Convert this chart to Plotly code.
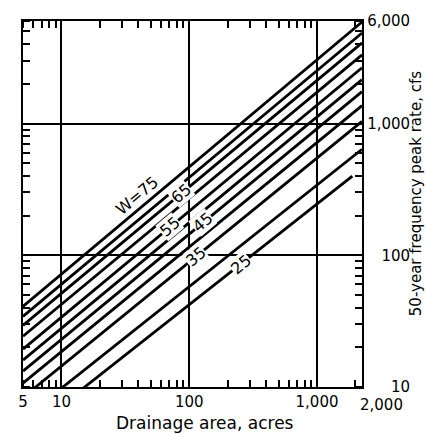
import numpy as np
import plotly.graph_objects as go

# ---- data ----
w_values = [25, 30, 35, 40, 45, 50, 55, 60, 65, 70, 75]
area_left = [5, 5, 5, 5, 5, 5, 5, 5, 5, 5, 5]                          # acres
area_right = [1890, 2250, 2250, 2250, 2250, 2250, 2250, 2250, 2250, 2250, 2250]
q_left = [4.27, 5.74, 8.34, 10.7, 13.2, 16.0, 19.4, 24.3, 29.4, 34.4, 40.9]        # cfs
q_right = [399, 637, 1037, 1368, 1746, 2151, 2649, 3321, 4090, 4864, 5892]         # cfs

label_texts = ["W=75", "65", "55", "45", "35", "25"]
label_areas = [39.1, 86.5, 71.0, 127.6, 113.5, 255]
label_q = [286, 294, 164, 176, 97.5, 84.9]

x_tick_vals = [5, 10, 100, 1000]
x_tick_text = ["5", "10", "100", "1,000"]
x_end_label = "2,000"
y_tick_vals = [10, 100, 1000, 6000]
y_tick_text = ["\u2007\u2007\u200810", "\u2007\u2008100", "1,000", "6,000"]

x_title = "Drainage area, acres"
y_title = "50-year frequency peak rate, cfs"

FONT = "DejaVu Sans"

fig = go.Figure()
for w, al, ar, ql, qr in zip(w_values, area_left, area_right, q_left, q_right):
    fig.add_trace(go.Scatter(
        x=[al, ar], y=[ql, qr], mode="lines",
        line=dict(color="black", width=2.8),
        name=f"W={w}", showlegend=False, hoverinfo="skip"))

for i, (t, a, q) in enumerate(zip(label_texts, label_areas, label_q)):
    fig.add_annotation(
        x=np.log10(a), y=np.log10(q), xref="x", yref="y",
        text=t, showarrow=False, textangle=-40,
        font=dict(family=FONT, size=16, color="black"),
        bgcolor=None if i == 0 else "white", borderpad=0)

fig.add_annotation(x=0.988, y=-0.049, xref="paper", yref="paper",
                   text=x_end_label, showarrow=False, xanchor="left", yanchor="middle",
                   font=dict(family=FONT, size=15, color="black"))
fig.add_annotation(x=0.538, y=-0.099, xref="paper", yref="paper",
                   text=x_title, showarrow=False, xanchor="center", yanchor="middle",
                   font=dict(family=FONT, size=17, color="black"))
fig.add_annotation(x=1.13, y=0.527, xref="paper", yref="paper",
                   text=y_title, showarrow=False, textangle=-90,
                   xanchor="left", yanchor="middle", borderpad=0,
                   font=dict(family=FONT, size=15, color="black"))

axis_common = dict(
    type="log", showline=True, linecolor="black", linewidth=2.4, mirror="allticks",
    showgrid=True, gridcolor="black", gridwidth=1.5, zeroline=False,
    ticks="", tickfont=dict(family=FONT, size=15, color="black"),
    minor=dict(dtick="D1", ticks="inside", ticklen=7, tickwidth=1.6,
               tickcolor="black", showgrid=False),
)

fig.update_layout(
    width=426, height=435,
    margin=dict(l=23, r=64, t=19, b=48),
    paper_bgcolor="white", plot_bgcolor="white",
    showlegend=False,
    xaxis=dict(range=[np.log10(5), np.log10(2250)], tickvals=x_tick_vals,
               ticktext=x_tick_text, **axis_common),
    yaxis=dict(range=[1, np.log10(6000)], tickvals=y_tick_vals, ticktext=y_tick_text,
               side="right", **axis_common),
)

fig.write_html("out.html")
